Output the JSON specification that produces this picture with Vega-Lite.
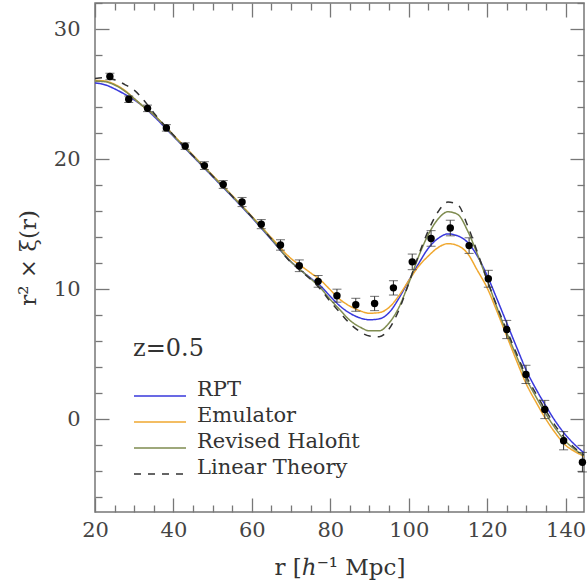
{
  "$schema": "https://vega.github.io/schema/vega-lite/v6.json",
  "width": 489,
  "height": 509,
  "autosize": "none",
  "padding": {"left": 95, "top": 3, "right": 3, "bottom": 73},
  "background": "white",
  "config": {
    "view": {"stroke": "#777", "strokeWidth": 1.5},
    "font": "DejaVu Serif",
    "axis": {
      "domain": false, "grid": false,
      "labelFont": "DejaVu Serif", "labelFontSize": 20, "labelColor": "#444",
      "tickColor": "#777", "tickWidth": 1.3,
      "titleFont": "DejaVu Serif", "titleFontSize": 23, "titleFontWeight": "normal", "titleColor": "#333"
    }
  },
  "datasets": {
    "curves": [
      {"r":20,"v":25.85,"model":"RPT"},{"r":22.5,"v":25.72,"model":"RPT"},{"r":25,"v":25.4,"model":"RPT"},{"r":27.5,"v":25.0,"model":"RPT"},{"r":30,"v":24.55,"model":"RPT"},{"r":32.5,"v":24.0,"model":"RPT"},{"r":35,"v":23.3,"model":"RPT"},{"r":40,"v":21.75,"model":"RPT"},{"r":45,"v":20.2,"model":"RPT"},{"r":50,"v":18.65,"model":"RPT"},{"r":55,"v":17.1,"model":"RPT"},{"r":60,"v":15.5,"model":"RPT"},{"r":65,"v":13.8,"model":"RPT"},{"r":70,"v":12.1,"model":"RPT"},{"r":72.5,"v":11.45,"model":"RPT"},{"r":75,"v":10.85,"model":"RPT"},{"r":77.5,"v":10.25,"model":"RPT"},{"r":80,"v":9.45,"model":"RPT"},{"r":82.5,"v":8.7,"model":"RPT"},{"r":85,"v":8.15,"model":"RPT"},{"r":87.5,"v":7.8,"model":"RPT"},{"r":90,"v":7.65,"model":"RPT"},{"r":92.5,"v":7.72,"model":"RPT"},{"r":95,"v":8.2,"model":"RPT"},{"r":97.5,"v":9.3,"model":"RPT"},{"r":100,"v":10.65,"model":"RPT"},{"r":102.5,"v":11.95,"model":"RPT"},{"r":105,"v":13.15,"model":"RPT"},{"r":107.5,"v":13.9,"model":"RPT"},{"r":110,"v":14.25,"model":"RPT"},{"r":112.5,"v":14.1,"model":"RPT"},{"r":115,"v":13.6,"model":"RPT"},{"r":117.5,"v":12.55,"model":"RPT"},{"r":120,"v":11.05,"model":"RPT"},{"r":122.5,"v":9.25,"model":"RPT"},{"r":125,"v":7.4,"model":"RPT"},{"r":127.5,"v":5.55,"model":"RPT"},{"r":130,"v":3.75,"model":"RPT"},{"r":132.5,"v":2.3,"model":"RPT"},{"r":135,"v":1.0,"model":"RPT"},{"r":137.5,"v":-0.2,"model":"RPT"},{"r":140,"v":-1.2,"model":"RPT"},{"r":142.5,"v":-2.0,"model":"RPT"},{"r":145,"v":-2.65,"model":"RPT"},
      {"r":20,"v":26.05,"model":"Emulator"},{"r":22.5,"v":26.0,"model":"Emulator"},{"r":25,"v":25.75,"model":"Emulator"},{"r":27.5,"v":25.3,"model":"Emulator"},{"r":30,"v":24.65,"model":"Emulator"},{"r":32.5,"v":24.0,"model":"Emulator"},{"r":35,"v":23.4,"model":"Emulator"},{"r":40,"v":21.85,"model":"Emulator"},{"r":45,"v":20.3,"model":"Emulator"},{"r":50,"v":18.75,"model":"Emulator"},{"r":55,"v":17.2,"model":"Emulator"},{"r":60,"v":15.6,"model":"Emulator"},{"r":65,"v":13.95,"model":"Emulator"},{"r":70,"v":12.35,"model":"Emulator"},{"r":72.5,"v":11.8,"model":"Emulator"},{"r":75,"v":11.25,"model":"Emulator"},{"r":77.5,"v":10.7,"model":"Emulator"},{"r":80,"v":9.95,"model":"Emulator"},{"r":82.5,"v":9.2,"model":"Emulator"},{"r":85,"v":8.7,"model":"Emulator"},{"r":87.5,"v":8.35,"model":"Emulator"},{"r":90,"v":8.15,"model":"Emulator"},{"r":92.5,"v":8.2,"model":"Emulator"},{"r":95,"v":8.6,"model":"Emulator"},{"r":97.5,"v":9.5,"model":"Emulator"},{"r":100,"v":10.65,"model":"Emulator"},{"r":102.5,"v":11.75,"model":"Emulator"},{"r":105,"v":12.55,"model":"Emulator"},{"r":107.5,"v":13.2,"model":"Emulator"},{"r":110,"v":13.5,"model":"Emulator"},{"r":112.5,"v":13.35,"model":"Emulator"},{"r":115,"v":12.75,"model":"Emulator"},{"r":117.5,"v":11.45,"model":"Emulator"},{"r":120,"v":10.1,"model":"Emulator"},{"r":122.5,"v":8.3,"model":"Emulator"},{"r":125,"v":6.4,"model":"Emulator"},{"r":127.5,"v":4.5,"model":"Emulator"},{"r":130,"v":2.7,"model":"Emulator"},{"r":132.5,"v":1.3,"model":"Emulator"},{"r":135,"v":0.0,"model":"Emulator"},{"r":137.5,"v":-1.1,"model":"Emulator"},{"r":140,"v":-2.0,"model":"Emulator"},{"r":142.5,"v":-2.5,"model":"Emulator"},{"r":145,"v":-2.9,"model":"Emulator"},
      {"r":20,"v":26.0,"model":"Revised Halofit"},{"r":22.5,"v":25.95,"model":"Revised Halofit"},{"r":25,"v":25.7,"model":"Revised Halofit"},{"r":27.5,"v":25.25,"model":"Revised Halofit"},{"r":30,"v":24.65,"model":"Revised Halofit"},{"r":32.5,"v":24.0,"model":"Revised Halofit"},{"r":35,"v":23.4,"model":"Revised Halofit"},{"r":40,"v":21.8,"model":"Revised Halofit"},{"r":45,"v":20.25,"model":"Revised Halofit"},{"r":50,"v":18.7,"model":"Revised Halofit"},{"r":55,"v":17.15,"model":"Revised Halofit"},{"r":60,"v":15.55,"model":"Revised Halofit"},{"r":65,"v":13.85,"model":"Revised Halofit"},{"r":70,"v":12.1,"model":"Revised Halofit"},{"r":72.5,"v":11.45,"model":"Revised Halofit"},{"r":75,"v":10.8,"model":"Revised Halofit"},{"r":77.5,"v":10.1,"model":"Revised Halofit"},{"r":80,"v":9.2,"model":"Revised Halofit"},{"r":82.5,"v":8.4,"model":"Revised Halofit"},{"r":85,"v":7.6,"model":"Revised Halofit"},{"r":87.5,"v":7.1,"model":"Revised Halofit"},{"r":90,"v":6.8,"model":"Revised Halofit"},{"r":92.5,"v":6.8,"model":"Revised Halofit"},{"r":95,"v":7.4,"model":"Revised Halofit"},{"r":97.5,"v":8.6,"model":"Revised Halofit"},{"r":100,"v":10.45,"model":"Revised Halofit"},{"r":102.5,"v":12.5,"model":"Revised Halofit"},{"r":105,"v":14.2,"model":"Revised Halofit"},{"r":107.5,"v":15.4,"model":"Revised Halofit"},{"r":110,"v":15.95,"model":"Revised Halofit"},{"r":112.5,"v":15.75,"model":"Revised Halofit"},{"r":115,"v":14.5,"model":"Revised Halofit"},{"r":117.5,"v":12.7,"model":"Revised Halofit"},{"r":120,"v":10.7,"model":"Revised Halofit"},{"r":122.5,"v":8.6,"model":"Revised Halofit"},{"r":125,"v":6.65,"model":"Revised Halofit"},{"r":127.5,"v":4.85,"model":"Revised Halofit"},{"r":130,"v":3.1,"model":"Revised Halofit"},{"r":132.5,"v":1.7,"model":"Revised Halofit"},{"r":135,"v":0.4,"model":"Revised Halofit"},{"r":137.5,"v":-0.75,"model":"Revised Halofit"},{"r":140,"v":-1.7,"model":"Revised Halofit"},{"r":142.5,"v":-2.35,"model":"Revised Halofit"},{"r":145,"v":-2.85,"model":"Revised Halofit"},
      {"r":20,"v":26.2,"model":"Linear Theory"},{"r":22.5,"v":26.25,"model":"Linear Theory"},{"r":25,"v":26.1,"model":"Linear Theory"},{"r":27.5,"v":25.75,"model":"Linear Theory"},{"r":30,"v":25.3,"model":"Linear Theory"},{"r":32.5,"v":24.5,"model":"Linear Theory"},{"r":35,"v":23.55,"model":"Linear Theory"},{"r":40,"v":21.85,"model":"Linear Theory"},{"r":45,"v":20.25,"model":"Linear Theory"},{"r":50,"v":18.7,"model":"Linear Theory"},{"r":55,"v":17.15,"model":"Linear Theory"},{"r":60,"v":15.55,"model":"Linear Theory"},{"r":65,"v":13.85,"model":"Linear Theory"},{"r":70,"v":12.05,"model":"Linear Theory"},{"r":72.5,"v":11.4,"model":"Linear Theory"},{"r":75,"v":10.75,"model":"Linear Theory"},{"r":77.5,"v":10.0,"model":"Linear Theory"},{"r":80,"v":9.05,"model":"Linear Theory"},{"r":82.5,"v":8.2,"model":"Linear Theory"},{"r":85,"v":7.35,"model":"Linear Theory"},{"r":87.5,"v":6.75,"model":"Linear Theory"},{"r":90,"v":6.4,"model":"Linear Theory"},{"r":92.5,"v":6.35,"model":"Linear Theory"},{"r":95,"v":6.95,"model":"Linear Theory"},{"r":97.5,"v":8.4,"model":"Linear Theory"},{"r":100,"v":10.45,"model":"Linear Theory"},{"r":102.5,"v":12.6,"model":"Linear Theory"},{"r":105,"v":14.5,"model":"Linear Theory"},{"r":107.5,"v":15.95,"model":"Linear Theory"},{"r":110,"v":16.7,"model":"Linear Theory"},{"r":112.5,"v":16.5,"model":"Linear Theory"},{"r":115,"v":14.9,"model":"Linear Theory"},{"r":117.5,"v":12.85,"model":"Linear Theory"},{"r":120,"v":10.7,"model":"Linear Theory"},{"r":122.5,"v":8.7,"model":"Linear Theory"},{"r":125,"v":6.85,"model":"Linear Theory"},{"r":127.5,"v":5.05,"model":"Linear Theory"},{"r":130,"v":3.3,"model":"Linear Theory"},{"r":132.5,"v":1.95,"model":"Linear Theory"},{"r":135,"v":0.65,"model":"Linear Theory"},{"r":137.5,"v":-0.55,"model":"Linear Theory"},{"r":140,"v":-1.5,"model":"Linear Theory"},{"r":142.5,"v":-2.25,"model":"Linear Theory"},{"r":145,"v":-2.8,"model":"Linear Theory"}
    ],
    "pts": [
      {"r":23.8,"v":26.35,"err":0.25},{"r":28.6,"v":24.6,"err":0.25},{"r":33.4,"v":23.9,"err":0.25},{"r":38.2,"v":22.4,"err":0.25},{"r":43.0,"v":21.0,"err":0.25},{"r":47.9,"v":19.5,"err":0.3},{"r":52.7,"v":18.05,"err":0.3},{"r":57.5,"v":16.7,"err":0.35},{"r":62.4,"v":15.0,"err":0.35},{"r":67.3,"v":13.4,"err":0.4},{"r":72.1,"v":11.8,"err":0.45},{"r":76.9,"v":10.6,"err":0.45},{"r":81.7,"v":9.5,"err":0.5},{"r":86.5,"v":8.8,"err":0.5},{"r":91.3,"v":8.9,"err":0.55},{"r":96.1,"v":10.1,"err":0.55},{"r":100.9,"v":12.1,"err":0.6},{"r":105.7,"v":13.9,"err":0.6},{"r":110.6,"v":14.7,"err":0.6},{"r":115.4,"v":13.35,"err":0.6},{"r":120.3,"v":10.8,"err":0.65},{"r":125.0,"v":6.9,"err":0.7},{"r":129.9,"v":3.45,"err":0.7},{"r":134.7,"v":0.75,"err":0.7},{"r":139.5,"v":-1.65,"err":0.7},{"r":144.3,"v":-3.3,"err":0.75}
    ]
  },
  "layer": [
    {
      "data": {"name": "curves"},
      "mark": {"type": "line", "interpolate": "monotone", "strokeWidth": 1.5, "clip": true},
      "encoding": {
        "x": {"field": "r", "type": "quantitative", "scale": {"domain": [20, 144.7], "nice": false, "zero": false},
          "axis": {"orient": "bottom", "title": "r [ℎ⁻¹ Mpc]", "values": [20,25,30,35,40,45,50,55,60,65,70,75,80,85,90,95,100,105,110,115,120,125,130,135,140],
            "labelExpr": "datum.value % 20 === 0 ? datum.label : ''", "labelOverlap": false, "labelFlush": false,
            "tickSize": {"condition": {"test": "datum.value % 20 === 0", "value": -14}, "value": -7},
            "labelPadding": 21, "labelFontSize": 21, "titlePadding": 9}},
        "y": {"field": "v", "type": "quantitative", "scale": {"domain": [-7.13, 32.0], "nice": false, "zero": false},
          "axis": {"orient": "left", "title": "r² × ξ(r)", "values": [-6,-4,-2,0,2,4,6,8,10,12,14,16,18,20,22,24,26,28,30,32],
            "labelExpr": "datum.value % 10 === 0 ? datum.label : ''", "labelOverlap": false, "labelFlush": false,
            "tickSize": {"condition": {"test": "datum.value % 10 === 0", "value": -14}, "value": -7},
            "labelPadding": 29, "labelFontSize": 21, "titlePadding": 13}},
        "color": {"field": "model", "type": "nominal",
          "scale": {"domain": ["RPT", "Emulator", "Revised Halofit", "Linear Theory"], "range": ["#3838dc", "#f0a830", "#7f8c50", "#333333"]},
          "legend": {"title": "z=0.5", "orient": "none", "legendX": 38, "legendY": 334,
            "symbolType": "M-1,0H4.2", "symbolSize": 400, "symbolStrokeWidth": 1.5,
            "labelFont": "DejaVu Serif", "labelFontSize": 21, "labelColor": "#333", "labelOffset": 42, "labelBaseline": "alphabetic", "labelLimit": 400,
            "titleFont": "DejaVu Serif", "titleFontSize": 24, "titleFontWeight": "normal", "titleColor": "#333", "titlePadding": 24, "rowPadding": 5}},
        "strokeDash": {"field": "model", "type": "nominal",
          "scale": {"domain": ["RPT", "Emulator", "Revised Halofit", "Linear Theory"], "range": [[1,0],[1,0],[1,0],[7,7]]},
          "legend": null}
      }
    },
    {
      "data": {"name": "pts"},
      "mark": {"type": "errorbar", "ticks": {"size": 9}, "thickness": 1, "color": "#333"},
      "encoding": {
        "x": {"field": "r", "type": "quantitative", "scale": {"domain": [20, 144.7], "nice": false, "zero": false}, "axis": null},
        "y": {"field": "v", "type": "quantitative", "scale": {"domain": [-7.13, 32.0], "nice": false, "zero": false}, "axis": null},
        "yError": {"field": "err"}
      }
    },
    {
      "data": {"name": "pts"},
      "mark": {"type": "point", "filled": true, "size": 55, "color": "#000", "opacity": 1},
      "encoding": {
        "x": {"field": "r", "type": "quantitative", "scale": {"domain": [20, 144.7], "nice": false, "zero": false},
          "axis": {"orient": "top", "title": null, "labels": false, "values": [20,25,30,35,40,45,50,55,60,65,70,75,80,85,90,95,100,105,110,115,120,125,130,135,140],
            "tickSize": {"condition": {"test": "datum.value % 20 === 0", "value": -14}, "value": -7}}},
        "y": {"field": "v", "type": "quantitative", "scale": {"domain": [-7.13, 32.0], "nice": false, "zero": false},
          "axis": {"orient": "right", "title": null, "labels": false, "values": [-6,-4,-2,0,2,4,6,8,10,12,14,16,18,20,22,24,26,28,30,32],
            "tickSize": {"condition": {"test": "datum.value % 10 === 0", "value": -14}, "value": -7}}}
      }
    }
  ],
  "resolve": {"axis": {"x": "independent", "y": "independent"}}
}
